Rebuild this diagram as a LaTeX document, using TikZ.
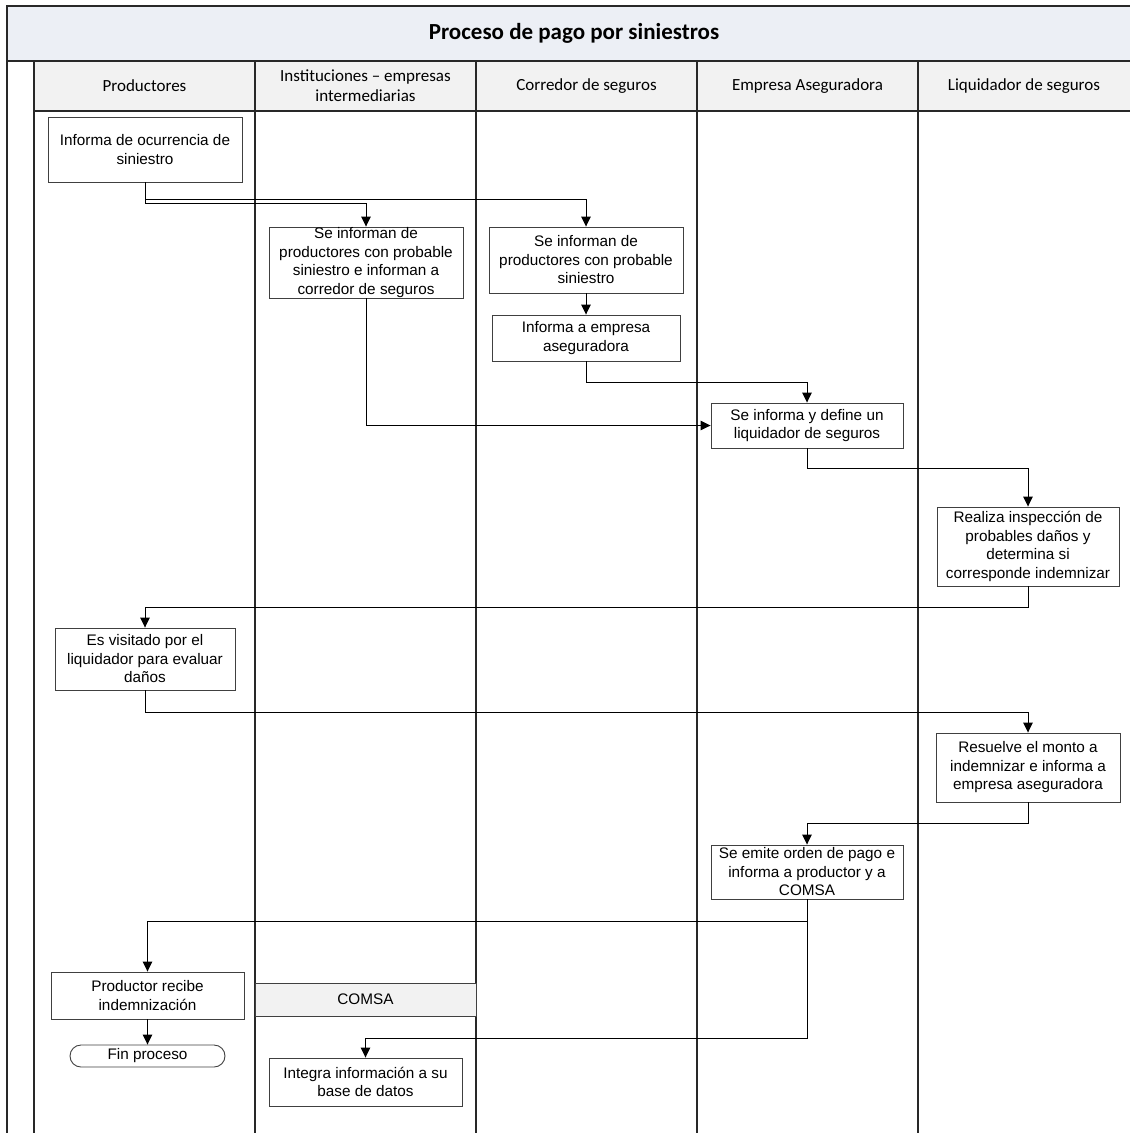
\documentclass[tikz,border=0pt]{standalone}
\usepackage{fontspec}
\setmainfont{Liberation Sans}
\newfontfamily\carlito{Carlito}
\usetikzlibrary{arrows.meta}
\definecolor{bandfill}{RGB}{236,239,245}
\definecolor{headfill}{RGB}{242,242,242}
\definecolor{edge}{RGB}{64,64,64}
\definecolor{pool}{RGB}{40,40,40}

\begin{document}
\begin{tikzpicture}[x=1pt,y=-1pt,
  box/.style={draw=edge, line width=0.9pt, fill=white, align=center, inner sep=0pt,
              font=\fontsize{15.3}{18.5}\selectfont},
  term/.style={box, rounded corners=11pt},
  band/.style={draw=edge, line width=0.9pt, fill=headfill, inner sep=0pt,
               font=\fontsize{15.3}{18.5}\selectfont},
  arr/.style={draw=black, line width=0.9pt, -{Triangle[length=10pt,width=9.5pt]}},
  lane/.style={draw=pool, line width=1.3pt},
  head/.style={font=\carlito\fontsize{17}{20}\selectfont, align=center},
]
\useasboundingbox (0,0) rectangle (1130,1133);

% pool frame, title band and lane headers
\fill[bandfill] (7,6) rectangle (1132,61);
\fill[headfill] (34,61) rectangle (1132,111);
\draw[lane] (1132,6) -- (7,6) -- (7,1135);
\draw[lane] (7,61) -- (1132,61);
\draw[lane] (34,111) -- (1132,111);
\foreach \x in {34,255,476,697,918}
  \draw[lane] (\x,61) -- (\x,1135);

\node[font=\carlito\bfseries\fontsize{23}{26}\selectfont] (title) at (574,33.5) {Proceso de pago por siniestros};

\node[head] (h1) at (144.5,86) {Productores};
\node[head] (h2) at (365.5,86) {Instituciones \textendash{} empresas\\intermediarias};
\node[head] (h3) at (586.5,86) {Corredor de seguros};
\node[head] (h4) at (807.5,86) {Empresa Aseguradora};
\node[head] (h5) at (1024,86) {Liquidador de seguros};

% process steps
\node[box, minimum width=194pt, minimum height=65pt] (b1) at (145,149.5)
  {Informa de ocurrencia de\\siniestro};
\node[box, minimum width=194pt, minimum height=71pt] (b2) at (366,262.5)
  {Se informan de\\productores con probable\\siniestro e informan a\\corredor de seguros};
\node[box, minimum width=194pt, minimum height=66pt] (b3) at (586,260)
  {Se informan de\\productores con probable\\siniestro};
\node[box, minimum width=188pt, minimum height=46pt] (b4) at (586,338)
  {Informa a empresa\\aseguradora};
\node[box, minimum width=192pt, minimum height=45pt] (b5) at (807,425.5)
  {Se informa y define un\\liquidador de seguros};
\node[box, minimum width=182pt, minimum height=79pt] (b6) at (1028,546.5)
  {Realiza inspección de\\probables daños y\\determina si\\corresponde indemnizar};
\node[box, minimum width=180pt, minimum height=62pt] (b7) at (145,659)
  {Es visitado por el\\liquidador para evaluar\\daños};
\node[box, minimum width=184pt, minimum height=69pt] (b8) at (1028,767.5)
  {Resuelve el monto a\\indemnizar e informa a\\empresa aseguradora};
\node[box, minimum width=192pt, minimum height=54pt] (b9) at (807,872)
  {Se emite orden de pago e\\informa a productor y a\\COMSA};
\node[box, minimum width=193pt, minimum height=47pt] (b10) at (147.5,995.5)
  {Productor recibe\\indemnización};
\node[term, minimum width=155pt, minimum height=22pt] (fin) at (147.5,1056)
  {Fin proceso};
\node[band, minimum width=221pt, minimum height=33pt] (comsa) at (365.5,999.5)
  {COMSA};
\node[box, minimum width=193pt, minimum height=48pt] (b11) at (365.5,1082)
  {Integra información a su\\base de datos};

% flow
\draw[arr] (b1.south) -- ++(0,17) -| (b3.north);
\draw[arr] (b1.south) -- ++(0,21) -| (b2.north);
\draw[arr] (b2.south) |- (b5.west);
\draw[arr] (b3.south) -- (b4.north);
\draw[arr] (b4.south) -- ++(0,21) -| (b5.north);
\draw[arr] (b5.south) -- ++(0,20) -| (b6.north);
\draw[arr] (b6.south) -- ++(0,21) -| (b7.north);
\draw[arr] (b7.south) -- ++(0,22) -| (b8.north);
\draw[arr] (b8.south) -- ++(0,21) -| (b9.north);
\draw[arr] (b9.south) -- ++(0,22) -| (b10.north);
\draw[arr] (b9.south) -- ++(0,139) -| (b11.north);
\draw[arr] (b10.south) -- (fin.north);
\end{tikzpicture}
\end{document}
